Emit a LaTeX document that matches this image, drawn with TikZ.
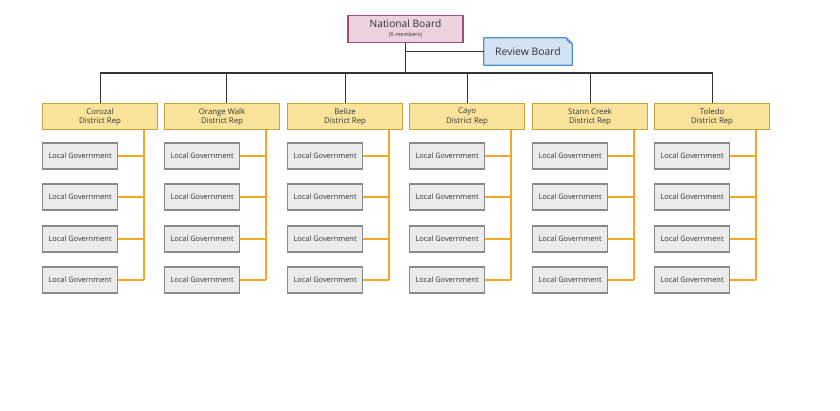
\documentclass[tikz,border=0pt]{standalone}
\usepackage{fontspec}
\setmainfont{Open Sans}
\definecolor{txt}{HTML}{333333}
\definecolor{distfill}{HTML}{FAE49C}
\definecolor{distdraw}{HTML}{C9A23C}
\definecolor{locfill}{HTML}{EBEBEB}
\definecolor{locdraw}{HTML}{8A8A8A}
\definecolor{natfill}{HTML}{EBD2DE}
\definecolor{natdraw}{HTML}{A34A78}
\definecolor{revfill}{HTML}{D3E3F3}
\definecolor{revdraw}{HTML}{4D8FD0}
\definecolor{orangeln}{HTML}{F7A823}
\definecolor{darkln}{HTML}{333333}
\begin{document}
\begin{tikzpicture}[x=1pt,y=-1pt,
  distbox/.style={draw=distdraw,fill=distfill,line width=1.2pt,minimum width=115pt,minimum height=26pt,inner sep=0pt,align=center,font=\fontsize{7.8}{9.2}\selectfont,text=txt},
  locbox/.style={draw=locdraw,fill=locfill,line width=1.2pt,minimum width=75pt,minimum height=26pt,inner sep=0pt,font=\fontsize{7.4}{8.8}\selectfont,text=txt},
  natbox/.style={draw=natdraw,fill=natfill,line width=1.2pt,minimum width=115pt,minimum height=27pt,inner sep=0pt,align=center,text=txt},
  revbox/.style={minimum width=88pt,minimum height=27pt,inner sep=0pt,font=\fontsize{10.4}{12}\selectfont,text=txt},
  orgline/.style={draw=orangeln,line width=1.2pt},
  darkline/.style={draw=darkln,line width=1.2pt}]
\useasboundingbox (0,0) rectangle (840,410);
\coordinate (bus) at (0,73);
% National board
\node[natbox] (nb) at (405.5,29) {{\fontsize{10.2}{11}\selectfont National Board}\\[-3pt]{\fontsize{5.6}{6.4}\selectfont (6 members)}};
% Review board (folded corner)
\node[revbox] (rb) at (528,51.5) {};
\fill[revfill] (rb.south west) -- (rb.north west) -- ([xshift=-6pt]rb.north east) -- ([yshift=-6pt]rb.north east) -- (rb.south east) -- cycle;
\draw[revdraw,line width=1.2pt,line join=round] (rb.south west) -- (rb.north west) -- ([xshift=-6pt]rb.north east) -- ([yshift=-6pt]rb.north east) -- (rb.south east) -- cycle;
\draw[revdraw,line width=0.8pt] ([xshift=-6pt]rb.north east) -- ([xshift=-4pt,yshift=-4pt]rb.north east) -- ([yshift=-6pt]rb.north east);
\node[revbox] at (rb.center) {Review Board};
\draw[darkline] (nb.south) -- (nb.south |- bus);
\draw[darkline] (rb.west) -- (rb.west -| nb.south);
% Districts
\foreach \x/\nm/\i/\dx in {42/Corozal/1/0, 164/Orange Walk/2/4.5, 287/Belize/3/0, 409/Cayo/4/0, 532/Stann Creek/5/0, 654/Toledo/6/0}{
  \node[distbox,anchor=north west] (d\i) at (\x,103) {\nm\\District Rep};
  \foreach \y/\j in {156/1,197/2,239/3,280/4}{
    \node[locbox,anchor=west] (l\i-\j) at (\x,\y) {Local Government};
  }
  \coordinate (o\i) at ([xshift=102pt]d\i.south west);
  \draw[orgline] (o\i) -- (o\i |- l\i-4.east);
  \foreach \j in {1,2,3,4}{
    \draw[orgline] (l\i-\j.east) -- (l\i-\j.east -| o\i);
  }
  \draw[darkline] ([xshift=\dx pt]d\i.north) -- ([xshift=\dx pt]d\i.north |- bus);
}
\draw[darkline,line join=miter] (d1.north) -- (d1.north |- bus) -- (d6.north |- bus) -- (d6.north);
\end{tikzpicture}
\end{document}
